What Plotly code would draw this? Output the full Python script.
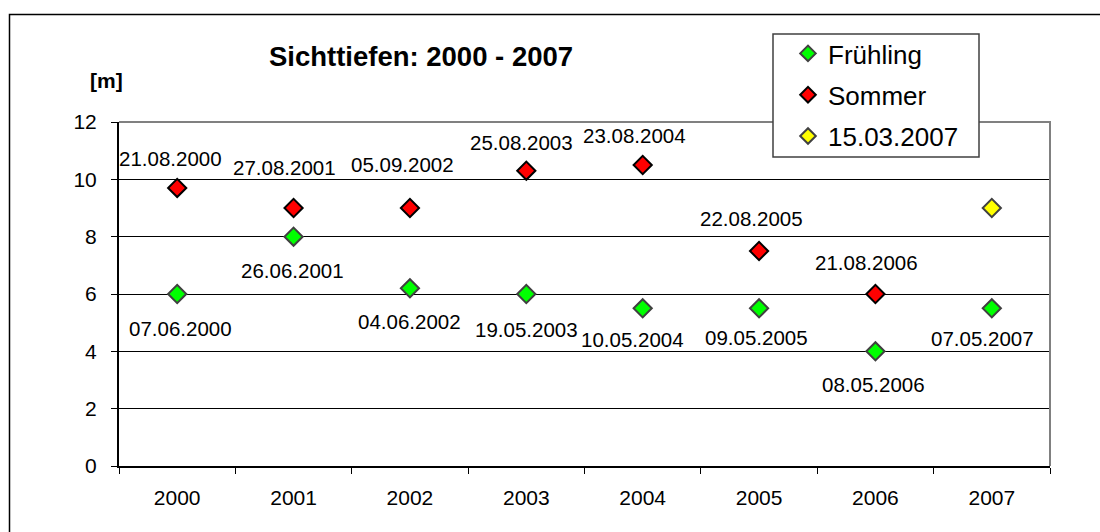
import plotly.graph_objects as go

# ---- data ----
years = ["2000", "2001", "2002", "2003", "2004", "2005", "2006", "2007"]
fruehling = [6.0, 8.0, 6.2, 6.0, 5.5, 5.5, 4.0, 5.5]
fruehling_dates = ["07.06.2000", "26.06.2001", "04.06.2002", "19.05.2003",
                   "10.05.2004", "09.05.2005", "08.05.2006", "07.05.2007"]
sommer_years = ["2000", "2001", "2002", "2003", "2004", "2005", "2006"]
sommer = [9.7, 9.0, 9.0, 10.3, 10.5, 7.5, 6.0]
sommer_dates = ["21.08.2000", "27.08.2001", "05.09.2002", "25.08.2003",
                "23.08.2004", "22.08.2005", "21.08.2006"]
maerz_years = ["2007"]
maerz = [9.0]
y_ticks = [0, 2, 4, 6, 8, 10, 12]

# ---- label offsets (pixels, style only) ----
sommer_dx = [-7, -9, -7, -5, -8, -8, -8.5]
sommer_dy = [29, 41, 44, 28, 30, 33, 32]
fruehling_dx = [3, -1, 0, 0, -10, -3, -1.5, -9]
fruehling_dy = [-34, -33.5, -33, -35, -31, -29, -33.5, -30]

FONT = "Arial, Liberation Sans, sans-serif"
W, H = 1100, 532
L, R, T, B = 119, 50, 122, 66
pw, ph = W - L - R, H - T - B


def px_x(p):
    return (p - L) / pw


def px_y(p):
    return (H - B - p) / ph


fig = go.Figure()
fig.add_trace(go.Scatter(
    x=years, y=fruehling, mode="markers", name="Frühling", legendgroup="a",
    marker=dict(symbol="diamond", size=14, color="#00FF00",
                line=dict(color="#404040", width=2)),
))
fig.add_trace(go.Scatter(
    x=sommer_years, y=sommer, mode="markers", name="Sommer", legendgroup="b",
    marker=dict(symbol="diamond", size=14, color="#FF0000",
                line=dict(color="#000000", width=2)),
))
fig.add_trace(go.Scatter(
    x=maerz_years, y=maerz, mode="markers", name="15.03.2007", legendgroup="c",
    marker=dict(symbol="diamond", size=14, color="#FFFF00",
                line=dict(color="#404040", width=2)),
))

annotations = []
for xv, yv, t, dx, dy in zip(sommer_years, sommer, sommer_dates, sommer_dx, sommer_dy):
    annotations.append(dict(x=years.index(xv), y=yv, text=t, showarrow=False,
                            xshift=dx, yshift=dy,
                            font=dict(family=FONT, size=20.5, color="black"),
                            xanchor="center", yanchor="middle"))
for xv, yv, t, dx, dy in zip(years, fruehling, fruehling_dates, fruehling_dx, fruehling_dy):
    annotations.append(dict(x=years.index(xv), y=yv, text=t, showarrow=False,
                            xshift=dx, yshift=dy,
                            font=dict(family=FONT, size=20.5, color="black"),
                            xanchor="center", yanchor="middle"))
annotations.append(dict(x=px_x(106), y=px_y(80), xref="paper", yref="paper",
                        text="<b>[m]</b>", showarrow=False,
                        font=dict(family=FONT, size=21, color="black"),
                        xanchor="center", yanchor="middle"))

shapes = [
    # outer chart border (right/bottom edges fall outside the picture)
    dict(type="rect", xref="paper", yref="paper",
         x0=px_x(9.5), x1=px_x(1104), y0=px_y(536), y1=px_y(14.5),
         line=dict(color="black", width=1.5), fillcolor="rgba(0,0,0,0)", layer="below"),
    # plot frame top/right (gray)
    dict(type="path", xref="paper", yref="paper", path="M0,1 L1,1 L1,0",
         line=dict(color="#808080", width=2), layer="above"),
    # legend box
    dict(type="rect", xref="paper", yref="paper",
         x0=px_x(773), x1=px_x(979), y0=px_y(157), y1=px_y(34),
         line=dict(color="#404040", width=1.5), fillcolor="white", layer="above"),
]

fig.update_layout(
    width=W, height=H,
    margin=dict(l=L, r=R, t=T, b=B),
    paper_bgcolor="white", plot_bgcolor="white",
    font=dict(family=FONT, color="black"),
    title=dict(text="<b>Sichttiefen: 2000 - 2007</b>", x=px_x(421), xref="paper",
               xanchor="center", y=1 - 56 / H, yref="container", yanchor="middle",
               font=dict(family=FONT, size=27.5, color="black")),
    showlegend=True,
    legend=dict(x=px_x(788), y=px_y(30), xanchor="left", yanchor="top",
                bgcolor="rgba(0,0,0,0)", borderwidth=0, itemsizing="constant",
                font=dict(family=FONT, size=26, color="black"),
                tracegroupgap=4.5),
    xaxis=dict(type="category", categoryorder="array", categoryarray=years,
               range=[-0.5, 7.5], showgrid=False, showline=True, linecolor="black",
               linewidth=2, ticks="outside", tickson="boundaries", ticklen=6,
               tickcolor="black", tickwidth=1, ticklabelstandoff=12,
               tickfont=dict(family=FONT, size=21, color="black"), zeroline=False),
    yaxis=dict(range=[0, 12], tickvals=y_ticks, showgrid=True, gridcolor="black",
               gridwidth=1, showline=True, linecolor="black", linewidth=2,
               ticks="outside", ticklen=6, tickcolor="black", tickwidth=1,
               ticklabelstandoff=10, zeroline=False,
               tickfont=dict(family=FONT, size=21, color="black")),
    annotations=annotations,
    shapes=shapes,
)

fig.write_html("out.html", config={"displayModeBar": False},
               post_script="document.body.style.margin='0';document.body.style.padding='0';")
